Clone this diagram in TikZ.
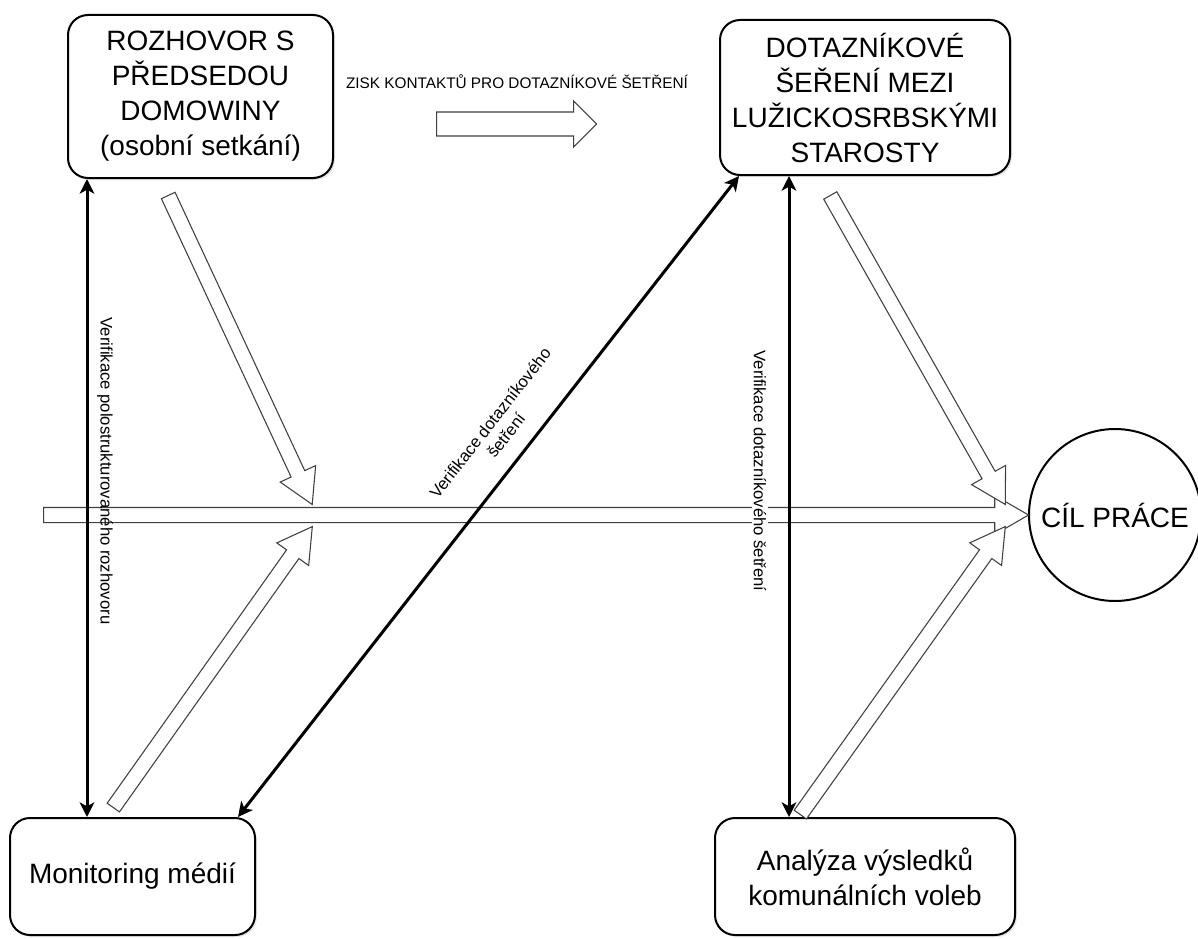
\documentclass[tikz,border=0pt]{standalone}
\usepackage{fontspec}
\setmainfont{Liberation Sans}
\usetikzlibrary{positioning, calc, arrows.meta, shapes.arrows, shadows}

\tikzset{
  box/.style={draw, rounded corners=15pt, line width=1.5pt, fill=white, align=center,
    font=\fontsize{21}{26.25}\selectfont,
    drop shadow={opacity=0.2, shadow xshift=1.5pt, shadow yshift=-1.5pt}},
  goal/.style={draw, circle, line width=1.5pt, fill=white, minimum size=129pt,
    inner sep=0pt, font=\fontsize{21}{26.25}\selectfont},
  flow/.style={single arrow, draw=black!75, fill=white, line width=0.8pt,
    inner xsep=0pt, inner ysep=5.25pt, text height=0pt, text depth=0pt,
    single arrow head extend=9pt, single arrow tip angle=60},
  link/.style={{Stealth[length=11pt,width=11pt,inset=3pt]}-{Stealth[length=11pt,width=11pt,inset=3pt]},
    line width=2.25pt},
  lbl/.style={font=\fontsize{12.5}{15}\selectfont, inner sep=1pt, align=center},
}

% hollow block arrow from #3 to #4
\newcommand{\blockarrow}[4][]{%
  \path let \p1=($(#4)-(#3)$), \n1={veclen(\x1,\y1)}, \n2={atan2(\y1,\x1)} in
    node[flow, #1, anchor=tail, minimum height=\n1, rotate=\n2] (#2) at (#3) {};}

\begin{document}
\begin{tikzpicture}[x=0.75pt, y=-0.75pt]
  \useasboundingbox (0,0) rectangle (1198,938);

  % The sources
  \node[box, minimum width=198.75pt, minimum height=122.25pt] (interview) at (200.5,96.5)
    {ROZHOVOR S\\PŘEDSEDOU\\DOMOWINY\\(osobní setkání)};
  \node[box, minimum width=217.5pt, minimum height=116.25pt] (survey) at (865,97.5)
    {DOTAZNÍKOVÉ\\ŠEŘENÍ MEZI\\LUŽICKOSRBSKÝMI\\STAROSTY};
  \node[box, minimum width=183.75pt, minimum height=87.75pt] (media) at (132.5,876.5)
    {Monitoring médií};
  \node[box, minimum width=225pt, minimum height=87.75pt] (results) at (865,876.5)
    {Analýza výsledků\\komunálních voleb};
  \node[goal] (goal) at (1115,515) {CÍL PRÁCE};

  % Contacts
  \coordinate (cTail) at (436,124);
  \coordinate (cTip) at (596,124);
  \blockarrow[inner ysep=8.6pt, single arrow head extend=8.25pt, single arrow tip angle=90]{contact}{cTail}{cTip}
  \node[lbl, font=\fontsize{11.5}{13}\selectfont] (contactLbl) at (517,82)
    {ZISK KONTAKTŮ PRO DOTAZNÍKOVÉ ŠETŘENÍ};

  % The spine
  \coordinate (spineTail) at (43,515);
  \blockarrow{spine}{spineTail}{goal.west}

  % The bones
  \coordinate (tUL) at (168,195);
  \coordinate (pUL) at (312,504);
  \coordinate (tLL) at (113,808);
  \coordinate (pLL) at (312,527);
  \coordinate (tUR) at (830,195);
  \coordinate (pUR) at (1005,504);
  \coordinate (tLR) at (800,815);
  \coordinate (pLR) at (1005,527);
  \blockarrow{boneUL}{tUL}{pUL}
  \blockarrow{boneLL}{tLL}{pLL}
  \blockarrow{boneUR}{tUR}{pUR}
  \blockarrow{boneLR}{tLR}{pLR}

  % Verification
  \coordinate (lineL) at ([xshift=15pt]interview.south west);
  \coordinate (lineR) at ([xshift=52.5pt]survey.south west);
  \draw[link] (lineL) -- (lineL |- media.north);
  \draw[link] (lineR) -- (lineR |- results.north);
  \draw[link] ([xshift=-13.5pt]media.north east) -- ([xshift=15pt]survey.south west);

  \node[lbl, rotate=-90] (verifyInterview) at (105,471) {Verifikace polostrukturovaného rozhovoru};
  \node[lbl, rotate=-90, fill=white] (verifyResults) at (760,471) {Verifikace dotazníkového šetření};
  \node[lbl, rotate=52] (verifySurvey) at (498,429) {Verifikace dotazníkového\\šetření};
\end{tikzpicture}
\end{document}
